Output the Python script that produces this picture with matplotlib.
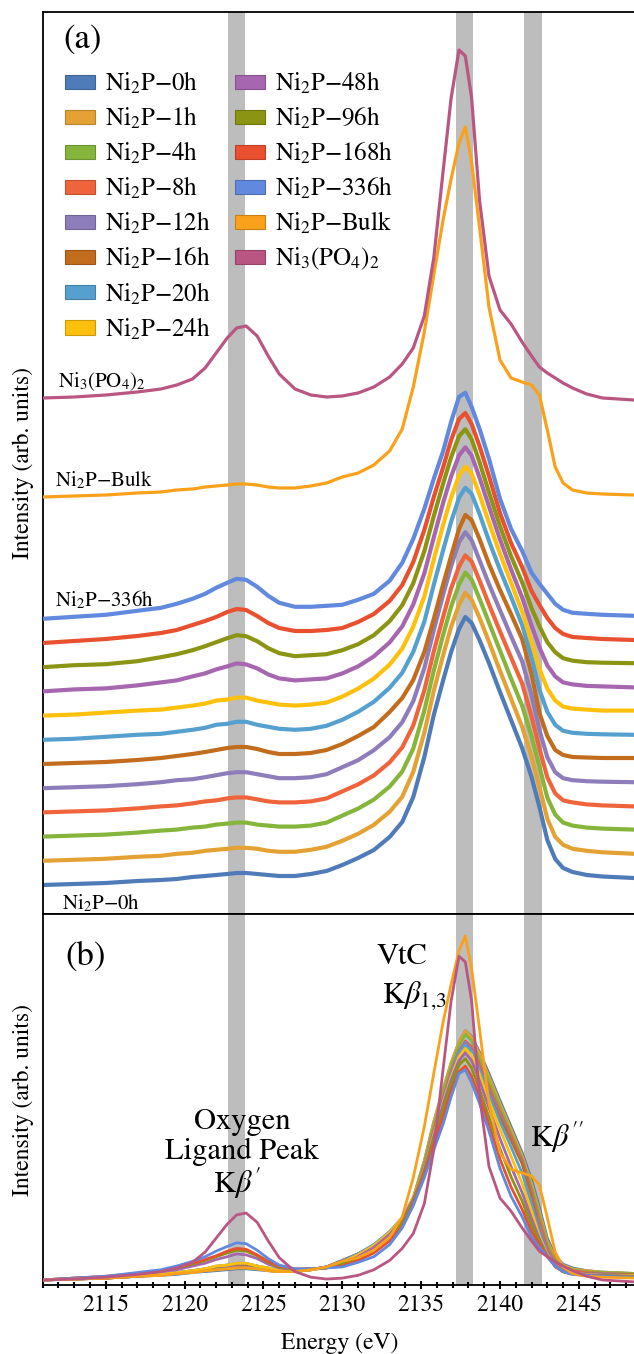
"""Ni Kbeta XES spectra: stacked (a) and overlaid (b) panels."""

import matplotlib
matplotlib.use("Agg")
import matplotlib.pyplot as plt
from matplotlib.patches import Patch
from matplotlib.ticker import MultipleLocator
from matplotlib.colors import to_rgb

plt.rcParams["font.family"] = ["STIXGeneral", "DejaVu Sans"]
plt.rcParams["mathtext.fontset"] = "stix"

# energy grid (eV)
energy = [2111, 2113, 2115, 2117, 2118.5, 2119.5, 2120.5, 2121.3, 2122, 2122.7,
          2123.3, 2123.9, 2124.6, 2125.3, 2126, 2127, 2128, 2129,
          2130, 2131, 2132, 2133, 2133.8, 2134.5, 2135.2, 2135.8, 2136.4, 2136.9,
          2137.4, 2137.8, 2138.2, 2138.7, 2139.3, 2140, 2140.7, 2141.4, 2142, 2142.5,
          2143, 2143.5, 2144, 2144.6, 2145.5, 2146.5, 2148.5]

labels = ["Ni$_2$P\u22120h", "Ni$_2$P\u22121h", "Ni$_2$P\u22124h", "Ni$_2$P\u22128h",
          "Ni$_2$P\u221212h", "Ni$_2$P\u221216h", "Ni$_2$P\u221220h", "Ni$_2$P\u221224h",
          "Ni$_2$P\u221248h", "Ni$_2$P\u221296h", "Ni$_2$P\u2212168h", "Ni$_2$P\u2212336h",
          "Ni$_2$P\u2212Bulk", "Ni$_3$(PO$_4$)$_2$"]

colors = ["#4f7cb9", "#e4a235", "#86b53c", "#f0643c", "#8d7dba", "#c26c1e", "#56a0cf",
          "#fdc00d", "#a666b0", "#8b9513", "#e8502f", "#6189de", "#f9a11b", "#b95681"]

# intensities above each curve's own baseline (arb. units)
ni2p_0h = [0, 1, 2, 4, 5, 6, 8, 9, 10, 11, 12, 12, 11, 10, 9, 9, 11, 14,
           20, 27, 35, 48, 63, 88, 128, 170, 205, 233, 256, 268, 262, 245, 222,
           193, 165, 137, 108, 78, 45, 26, 17, 13, 10, 8.5, 7]
ni2p_1h = [0, 1, 2, 4, 5, 7, 8, 10, 11, 12, 13, 13, 12, 10, 9, 9, 11, 14,
           20, 27, 36, 49, 64, 89, 128, 170, 206, 234, 256, 268, 261, 243, 219,
           190, 162, 134, 104, 74, 42, 24, 16, 12, 10, 8.5, 7]
ni2p_4h = [0, 1, 2, 4, 6, 7, 9, 10, 12, 13, 14, 14, 12, 11, 10, 10, 11, 14,
           21, 28, 37, 50, 65, 88, 126, 166, 202, 230, 252, 264, 257, 238, 214,
           186, 158, 131, 100, 70, 39, 22, 14, 11, 9, 8, 7]
ni2p_8h = [0, 1, 2, 4, 6, 7, 9, 11, 12, 14, 15, 15, 13, 11, 10, 10, 11, 14,
           21, 28, 37, 50, 65, 87, 122, 161, 196, 224, 246, 257, 251, 232, 208,
           181, 155, 129, 96, 64, 35, 19, 12, 10, 8, 7, 6]
ni2p_12h = [0, 1, 2, 4, 6, 8, 9, 11, 13, 15, 16, 16, 14, 12, 10, 10, 11, 14,
            21, 28, 38, 51, 66, 87, 120, 158, 194, 222, 246, 256, 248, 228, 204,
            178, 152, 127, 93, 58, 31, 16, 10, 8, 7, 6.5, 6]
ni2p_16h = [0, 1, 2, 4, 6, 8, 10, 12, 14, 16, 17, 17, 15, 12, 10, 10, 11, 14,
            20, 28, 37, 52, 66, 84, 112, 145, 180, 208, 235, 249, 244, 225, 200,
            174, 150, 125, 90, 51, 28, 14, 9, 7, 6.5, 6, 6]
ni2p_20h = [0, 1, 3, 5, 6, 8, 10, 12, 15, 16, 18, 18, 15, 13, 11, 10, 11, 14,
            20, 28, 38, 52, 67, 88, 118, 155, 190, 218, 242, 252, 246, 226, 199,
            170, 143, 115, 82, 50, 28, 15, 9, 7, 6, 5.5, 5]
ni2p_24h = [0, 1, 3, 5, 6, 8, 10, 12, 15, 16, 18, 18, 15, 13, 11, 10, 11, 13,
            19, 27, 37, 51, 67, 89, 119, 156, 191, 218, 240, 249, 242, 221, 193,
            162, 133, 104, 74, 47, 27, 15, 9, 7, 6, 5, 5]
ni2p_48h = [0, 2, 3, 6, 9, 11, 15, 18, 22, 25, 28, 27, 23, 17, 13, 11, 12, 13,
            18, 25, 35, 49, 65, 87, 118, 154, 189, 215, 236, 244, 236, 214, 185,
            152, 122, 94, 66, 44, 26, 15, 9, 7, 5.5, 5, 4]
ni2p_96h = [0, 2, 3, 6, 10, 13, 17, 21, 25, 29, 32, 31, 26, 19, 14, 11, 12, 13,
            17, 23, 32, 46, 62, 84, 116, 151, 184, 210, 231, 238, 228, 205, 175,
            141, 111, 85, 59, 41, 25, 15, 9, 6.5, 5, 4.5, 4]
ni2p_168h = [0, 2, 4, 7, 10, 13, 18, 22, 26, 31, 34, 33, 27, 20, 15, 12, 12, 13,
             15, 21, 29, 42, 58, 81, 113, 146, 176, 203, 224, 230, 219, 197, 167,
             130, 100, 76, 52, 38, 25, 15, 9, 6, 5, 4, 3]
ni2p_336h = [0, 2, 4, 8, 11, 15, 20, 25, 31, 36, 40, 39, 32, 23, 16, 12, 12, 13,
             14, 19, 25, 38, 56, 80, 110, 140, 168, 197, 222, 226, 212, 190, 160,
             120, 90, 68, 46, 35, 25, 15, 9, 6, 5, 4, 3]
ni2p_bulk = [0, 1, 2, 4, 5, 7, 8, 10, 11, 12, 13, 13, 12, 10, 9, 9, 11, 14,
             20, 24, 32, 46, 68, 110, 165, 222, 278, 318, 354, 370, 335, 270, 190,
             137, 119, 115, 112, 102, 67, 30, 14, 7, 4, 3, 2]
ni3po42 = [0, 1, 3, 6, 9, 13, 19, 30, 45, 60, 70, 72, 62, 42, 24, 9, 3, 1,
           2, 5, 11, 21, 34, 50, 82, 140, 228, 300, 348, 342, 300, 198, 122,
           88, 74, 56, 42, 31, 25, 20, 15, 10, 4, 0, -2]

spectra = [ni2p_0h, ni2p_1h, ni2p_4h, ni2p_8h, ni2p_12h, ni2p_16h, ni2p_20h,
           ni2p_24h, ni2p_48h, ni2p_96h, ni2p_168h, ni2p_336h, ni2p_bulk, ni3po42]

# vertical offsets used in the stacked panel
offsets = [29 + 24.2 * i for i in range(12)] + [417, 516]

bands = [(2122.75, 2123.85), (2137.2, 2138.3), (2141.5, 2142.65)]


def darker(c, f=0.8):
    r, g, b = to_rgb(c)
    return (r * f, g * f, b * f)


W, H = 634, 1354
fig = plt.figure(figsize=(W / 100, H / 100), dpi=100)
left = 42.7 / W
width = 594.5 / W
ax_a = fig.add_axes([left, 1 - 914 / H, width, (914 - 12) / H])
ax_b = fig.add_axes([left, 1 - 1285 / H, width, (1285 - 914) / H])

for ax in (ax_a, ax_b):
    ax.set_xlim(2111, 2148.7)
    for lo, hi in bands:
        ax.axvspan(lo, hi, color="#bdbdbd", lw=0, zorder=0)
    ax.spines["right"].set_visible(False)
    for s in ("left", "top", "bottom"):
        ax.spines[s].set_linewidth(1.3)
    ax.set_yticks([])
    ax.set_ylabel("Intensity (arb. units)", fontsize=17, labelpad=6)

# (a) stacked
ax_a.set_ylim(0, 902)
ax_a.set_xticks([])
for i, (sp, off, c) in enumerate(zip(spectra, offsets, colors)):
    lw = 3.0 if i < 12 else 2.3
    ax_a.plot(energy, [v + off for v in sp], color=c, lw=lw, zorder=2 + i,
              solid_joinstyle="round", solid_capstyle="round")

ax_a.text(0.034, 0.969, "(a)", transform=ax_a.transAxes, fontsize=25,
          ha="left", va="center")
ax_a.text(2112.0, 532, labels[13], fontsize=15, ha="left", va="center", zorder=30)
ax_a.text(2111.8, 434, labels[12], fontsize=15, ha="left", va="center", zorder=30)
ax_a.text(2111.8, 314, labels[11], fontsize=15, ha="left", va="center", zorder=30)
ax_a.text(2112.2, 11, labels[0], fontsize=15, ha="left", va="center", zorder=30)

handles = [Patch(facecolor=c, edgecolor=darker(c), lw=0.8) for c in colors]
leg_kw = dict(frameon=False, fontsize=18, loc="upper left", borderpad=0,
              borderaxespad=0, handlelength=1.2, handleheight=0.5,
              handletextpad=0.4, labelspacing=0.35)
leg1 = ax_a.legend(handles[:8], labels[:8], bbox_to_anchor=(0.038, 0.935), **leg_kw)
ax_a.add_artist(leg1)
ax_a.legend(handles[8:], labels[8:], bbox_to_anchor=(0.324, 0.935), **leg_kw)

# (b) overlaid
ax_b.set_ylim(-5.4, 393.5)
for i, (sp, c) in enumerate(zip(spectra, colors)):
    ax_b.plot(energy, sp, color=c, lw=2.0, zorder=2 + i, solid_joinstyle="round")

ax_b.xaxis.set_major_locator(MultipleLocator(5))
ax_b.xaxis.set_minor_locator(MultipleLocator(1))
ax_b.tick_params(axis="x", which="major", direction="inout", length=6, width=1.5,
                 labelsize=17, pad=4)
ax_b.tick_params(axis="x", which="minor", direction="inout", length=4, width=1.5)
ax_b.set_xlabel("Energy (eV)", fontsize=17, labelpad=12)

tb = dict(transform=ax_b.transAxes, fontsize=22, ha="center", va="center", zorder=30)
ax_b.text(0.038, 0.884, "(b)", fontsize=25, ha="left", va="center",
          transform=ax_b.transAxes)
ax_b.text(0.605, 0.884, "VtC", **tb)
ax_b.text(0.571, 0.779, r"K$\beta_{1,\!3}$", transform=ax_b.transAxes, fontsize=22,
          ha="left", va="center", zorder=30)
ax_b.text(0.820, 0.399, r"K$\beta''$", transform=ax_b.transAxes, fontsize=22,
          ha="left", va="center", zorder=30)
ax_b.text(0.335, 0.439, "Oxygen", **tb)
ax_b.text(0.335, 0.358, "Ligand Peak", **tb)
ax_b.text(0.327, 0.275, r"K$\beta'$", **tb)

fig.savefig("out.png", dpi=100)
